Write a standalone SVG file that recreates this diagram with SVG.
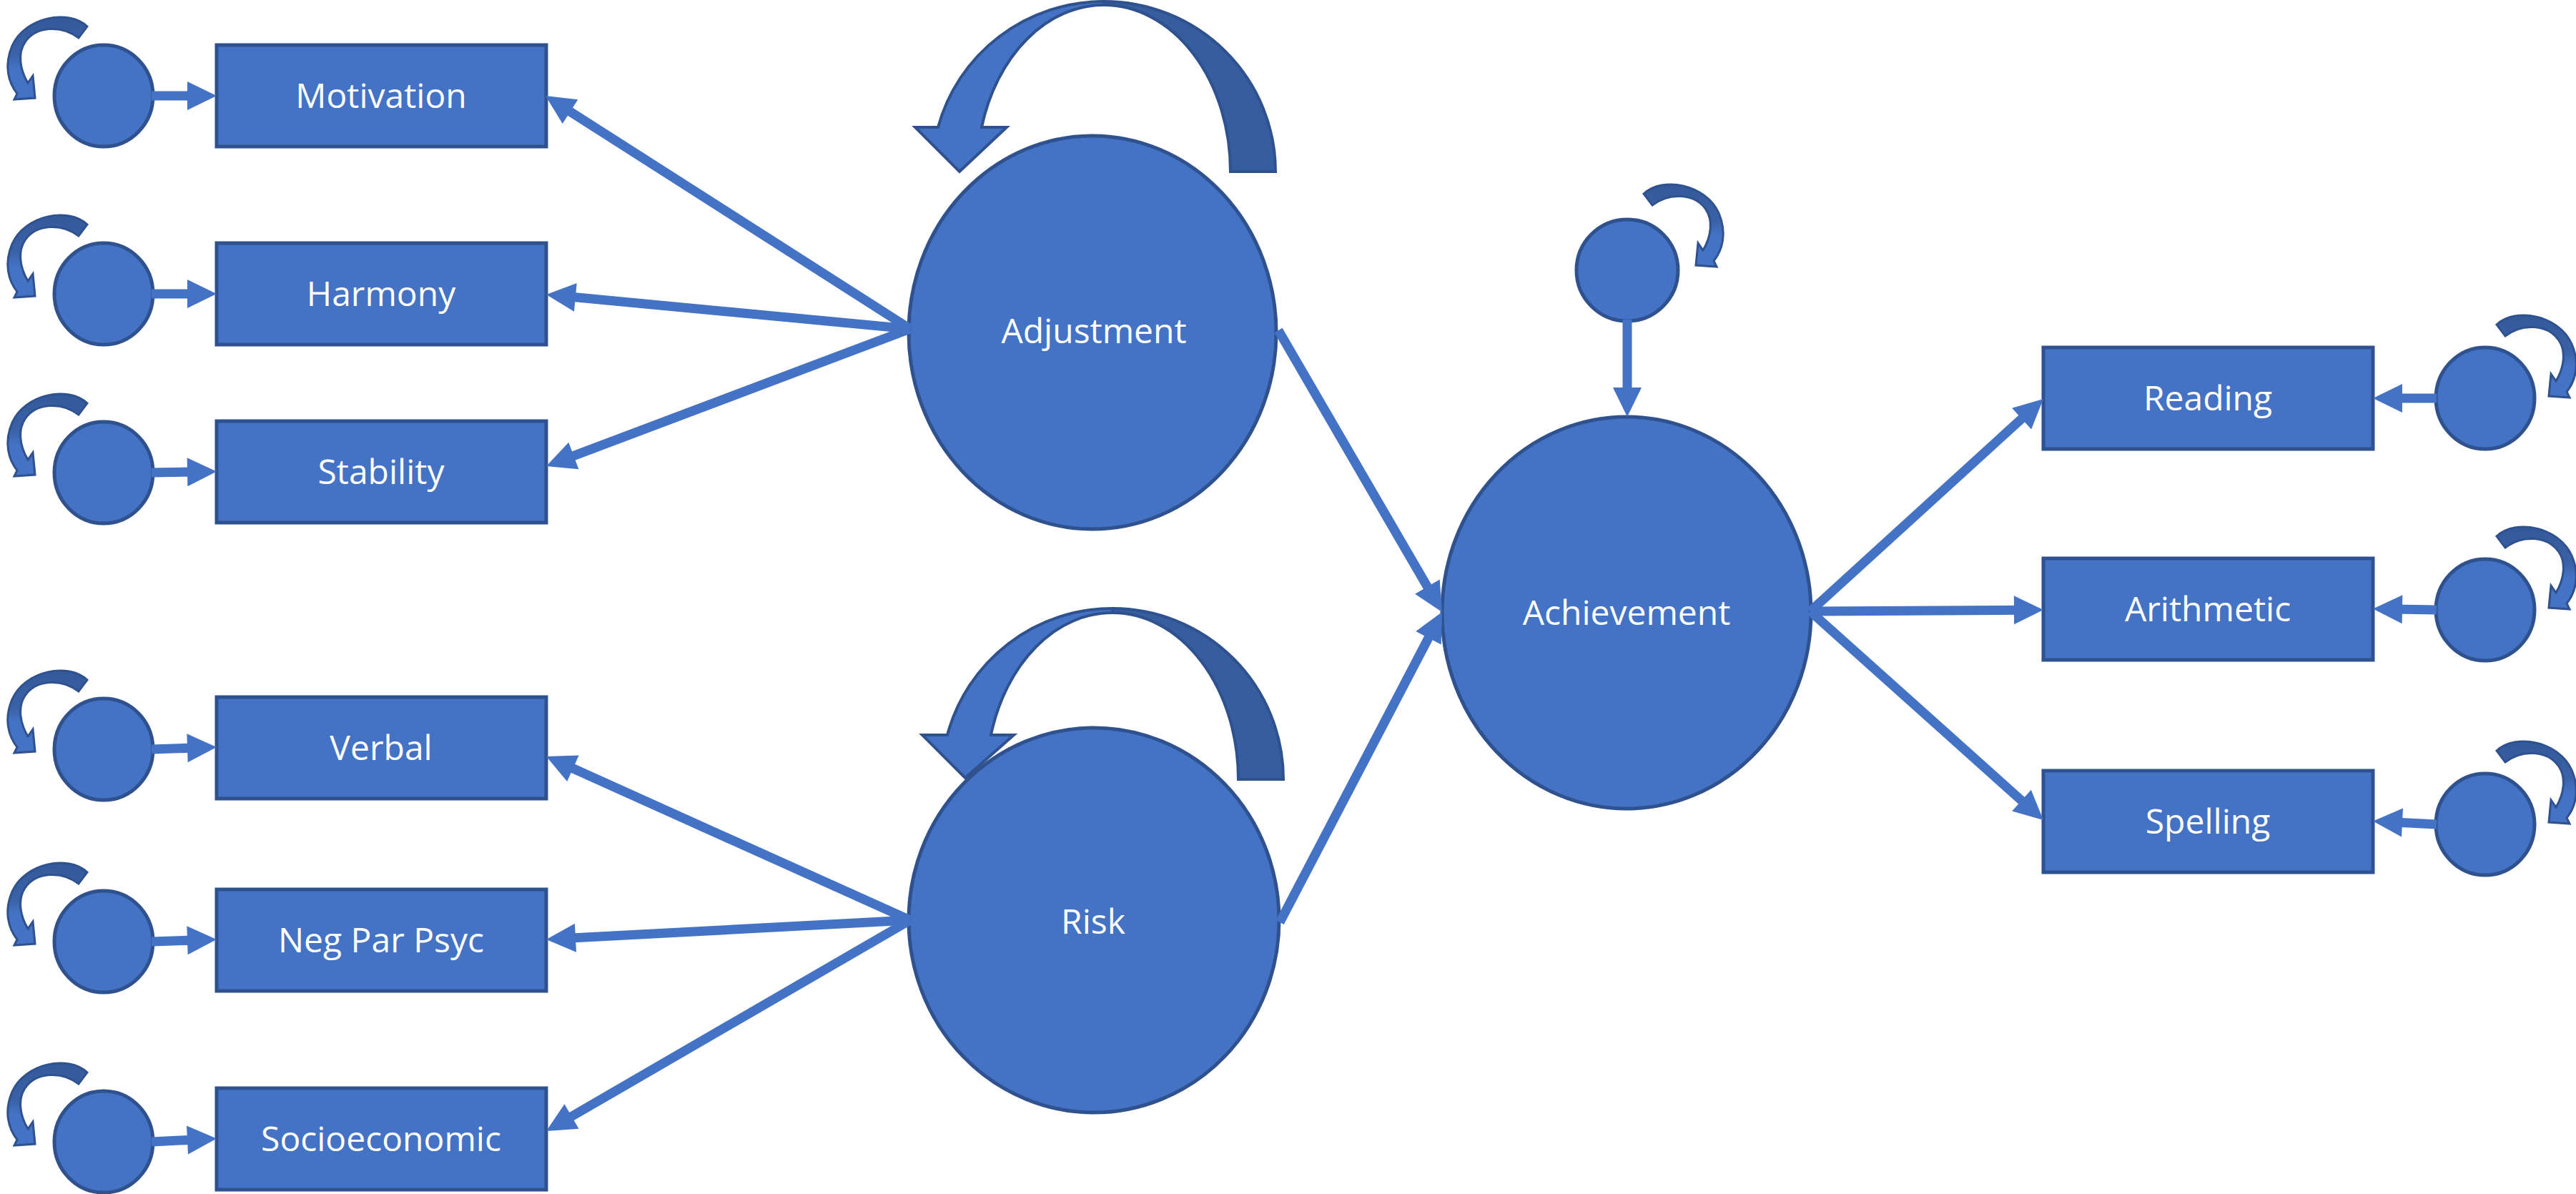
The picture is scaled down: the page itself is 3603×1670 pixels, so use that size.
<svg xmlns="http://www.w3.org/2000/svg" xmlns:xlink="http://www.w3.org/1999/xlink" width="3603" height="1670" viewBox="0 0 3603 1670">
<style>
.node{fill:#4472C4;stroke:#2F528F;stroke-width:5}
.lbl{fill:#FFFFFF;font-family:"Open Sans","Noto Sans","DejaVu Sans",sans-serif;font-size:48px;text-anchor:middle}
.con{stroke:#4472C4;stroke-width:13;fill:none;marker-end:url(#ah)}
.loop{fill:url(#lg);stroke:#2F528F;stroke-width:3}
.big-l{fill:#4472C4;stroke:#2F528F;stroke-width:4}
.big-d{fill:#365D9D;stroke:#2F528F;stroke-width:4}
</style>
<defs>
<marker id="ah" markerUnits="userSpaceOnUse" viewBox="0 0 42 40" markerWidth="42" markerHeight="40" refX="11" refY="20" orient="auto" overflow="visible">
<path d="M0,0 L41,20 L0,40 Z" fill="#4472C4"/>
</marker>
<linearGradient id="lg" x1="0" y1="0" x2="0" y2="1">
<stop offset="0" stop-color="#34599A"/>
<stop offset="0.45" stop-color="#3A62A8"/>
<stop offset="0.62" stop-color="#4472C4"/>
<stop offset="1" stop-color="#4472C4"/>
</linearGradient>
<path id="sloop" class="loop" d="M-23,-97 C-50,-122 -110,-110 -128,-70 C-140,-42 -133,-18 -121,-3 L-125,5 L-96,3 L-99,-28 L-106,-18 C-118,-38 -120,-60 -110,-75 C-95,-97 -60,-100 -35,-81 Z"/>
</defs>
<rect width="3603" height="1670" fill="#FFFFFF"/>

<g id="adjustment">
<ellipse class="node" cx="1528" cy="465" rx="257" ry="275"/>
<path class="big-d" d="M1544,2 A240,238 0 0 1 1784,240 L1721,240 A177,233 0 0 0 1544,7 Z"/>
<path class="big-l" d="M1544,2 A240,238 0 0 0 1312,178 L1280,178 L1342,240 L1408,178 L1373,178 A177,233 0 0 1 1544,7 Z"/>
<text class="lbl" x="1530" y="480">Adjustment</text>
</g>
<g id="risk">
<ellipse class="node" cx="1530" cy="1287" rx="259" ry="269"/>
<path class="big-d" d="M1556,851 A239,239 0 0 1 1795,1090 L1732,1090 A176,233 0 0 0 1556,857 Z"/>
<path class="big-l" d="M1556,851 A239,239 0 0 0 1325,1028 L1290,1028 L1350,1088 L1418,1028 L1386,1028 A176,233 0 0 1 1556,857 Z"/>
<text class="lbl" x="1529" y="1306">Risk</text>
</g>
<g id="achievement">
<ellipse class="node" cx="2275" cy="857" rx="258" ry="274"/>
<text class="lbl" x="2275" y="874">Achievement</text>
</g>

<g id="motivation"><rect class="node" x="303" y="63" width="461" height="142"/><text class="lbl" x="533" y="151">Motivation</text></g>
<g id="harmony"><rect class="node" x="303" y="340" width="461" height="142"/><text class="lbl" x="533" y="428">Harmony</text></g>
<g id="stability"><rect class="node" x="303" y="589" width="461" height="142"/><text class="lbl" x="533" y="677">Stability</text></g>
<g id="verbal"><rect class="node" x="303" y="975" width="461" height="142"/><text class="lbl" x="533" y="1063">Verbal</text></g>
<g id="negparpsyc"><rect class="node" x="303" y="1244" width="461" height="142"/><text class="lbl" x="533" y="1332">Neg Par Psyc</text></g>
<g id="socioeconomic"><rect class="node" x="303" y="1522" width="461" height="142"/><text class="lbl" x="533" y="1610">Socioeconomic</text></g>

<g id="reading"><rect class="node" x="2858" y="486" width="461" height="142"/><text class="lbl" x="3088" y="574">Reading</text></g>
<g id="arithmetic"><rect class="node" x="2858" y="781" width="461" height="142"/><text class="lbl" x="3088" y="869">Arithmetic</text></g>
<g id="spelling"><rect class="node" x="2858" y="1078" width="461" height="142"/><text class="lbl" x="3088" y="1166">Spelling</text></g>

<g id="e-motivation"><use xlink:href="#sloop" transform="translate(145,134)"/><ellipse class="node" cx="145" cy="134" rx="69" ry="71"/></g>
<g id="e-harmony"><use xlink:href="#sloop" transform="translate(145,411)"/><ellipse class="node" cx="145" cy="411" rx="69" ry="71"/></g>
<g id="e-stability"><use xlink:href="#sloop" transform="translate(145,661)"/><ellipse class="node" cx="145" cy="661" rx="69" ry="71"/></g>
<g id="e-verbal"><use xlink:href="#sloop" transform="translate(145,1048)"/><ellipse class="node" cx="145" cy="1048" rx="69" ry="71"/></g>
<g id="e-negparpsyc"><use xlink:href="#sloop" transform="translate(145,1317)"/><ellipse class="node" cx="145" cy="1317" rx="69" ry="71"/></g>
<g id="e-socioeconomic"><use xlink:href="#sloop" transform="translate(145,1597)"/><ellipse class="node" cx="145" cy="1597" rx="69" ry="71"/></g>
<g id="e-reading"><use xlink:href="#sloop" transform="translate(3469,551) scale(-1,1)"/><ellipse class="node" cx="3476" cy="557" rx="69" ry="71"/></g>
<g id="e-arithmetic"><use xlink:href="#sloop" transform="translate(3469,847) scale(-1,1)"/><ellipse class="node" cx="3476" cy="853" rx="69" ry="71"/></g>
<g id="e-spelling"><use xlink:href="#sloop" transform="translate(3469,1147) scale(-1,1)"/><ellipse class="node" cx="3476" cy="1153" rx="69" ry="71"/></g>
<g id="e-achievement"><use xlink:href="#sloop" transform="translate(2276,368) scale(-1,1)"/><ellipse class="node" cx="2276" cy="378" rx="71" ry="71"/></g>

<g id="connectors">
<line class="con" x1="1273" y1="460" x2="788.3" y2="150.2"/>
<line class="con" x1="1273" y1="460" x2="793.9" y2="414.8"/>
<line class="con" x1="1273" y1="460" x2="792.1" y2="641.4"/>
<line class="con" x1="1273" y1="1287" x2="791.4" y2="1070.3"/>
<line class="con" x1="1273" y1="1287" x2="794" y2="1312.3"/>
<line class="con" x1="1273" y1="1287" x2="790" y2="1567"/>
<line class="con" x1="1788" y1="462" x2="2001.9" y2="830.1"/>
<line class="con" x1="1790" y1="1290" x2="2003.1" y2="882.6"/>
<line class="con" x1="2532" y1="855" x2="2835.8" y2="578.2"/>
<line class="con" x1="2532" y1="855" x2="2828" y2="853.2"/>
<line class="con" x1="2532" y1="855" x2="2835.7" y2="1127"/>
<line class="con" x1="212" y1="134" x2="273" y2="134"/>
<line class="con" x1="212" y1="411" x2="273" y2="411"/>
<line class="con" x1="212" y1="661" x2="273" y2="660"/>
<line class="con" x1="212" y1="1048" x2="273" y2="1046"/>
<line class="con" x1="212" y1="1317" x2="273" y2="1315"/>
<line class="con" x1="212" y1="1597" x2="273" y2="1594"/>
<line class="con" x1="3408" y1="557" x2="3349" y2="557"/>
<line class="con" x1="3408" y1="853" x2="3349" y2="852"/>
<line class="con" x1="3408" y1="1153" x2="3349" y2="1150"/>
<line class="con" x1="2276" y1="447" x2="2276" y2="553"/>
</g>
</svg>
